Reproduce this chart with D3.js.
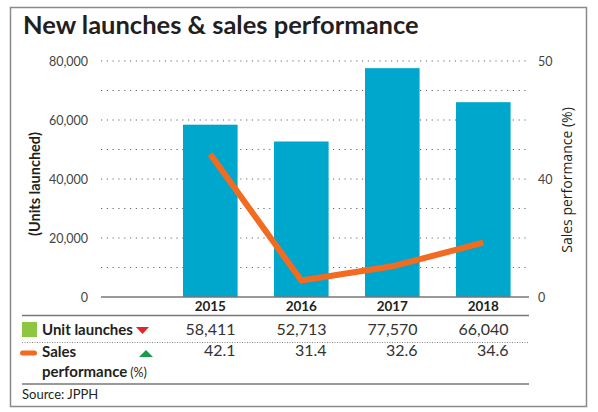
<!DOCTYPE html>
<html>
<head>
<meta charset="utf-8">
<script src="https://cdn.jsdelivr.net/npm/d3@7"></script>
<style>
  body { margin: 0; background: #fff; }
  text { font-family: Lato, "Open Sans", sans-serif; }
</style>
</head>
<body>
<script>
// values
const years = ["2015", "2016", "2017", "2018"];
const unitLaunches = [58411, 52713, 77570, 66040];
const salesPerf = [42.1, 31.4, 32.6, 34.6];
const leftTicks = [0, 20000, 40000, 60000, 80000];
const gridTicks = [0, 10000, 20000, 30000, 40000, 50000, 60000, 70000, 80000];
const rightTicks = [30, 40, 50];
const rightTickLabels = ["0", "40", "50"]; // the printed chart labels its base "0"

const W = 598, H = 412;

const svg = d3.select("body").append("svg")
  .attr("width", W)
  .attr("height", H);

// outer frame
svg.append("rect")
  .attr("x", 10.5).attr("y", 7.5)
  .attr("width", 576).attr("height", 399)
  .attr("fill", "#fff")
  .attr("stroke", "#8a8a8a")
  .attr("stroke-width", 1.5);

svg.append("text")
  .attr("x", 23).attr("y", 34)
  .style("font-size", "25.5px")
  .style("font-weight", "bold")
  .attr("fill", "#231f20")
  .text("New launches & sales performance");

const x = d3.scaleBand().domain(years).range([183, 510.6])
  .paddingInner(0.4).paddingOuter(0);
const y = d3.scaleLinear().domain([0, 80000]).range([297, 61]);
const yR = d3.scaleLinear().domain([30, 50]).range([297, 61]);

// dotted grid
svg.append("g")
  .selectAll("line")
  .data(gridTicks.filter(d => d > 0))
  .join("line")
  .attr("x1", 101).attr("x2", 529)
  .attr("y1", d => y(d)).attr("y2", d => y(d))
  .attr("stroke", "#666")
  .attr("stroke-width", 1.2)
  .attr("stroke-dasharray", "1.2,4.6");

// left axis labels
const leftAxis = d3.axisLeft(y)
  .tickValues(leftTicks)
  .tickSize(0)
  .tickPadding(0)
  .tickFormat(d3.format(","));
svg.append("g")
  .attr("transform", "translate(88,0)")
  .call(leftAxis)
  .call(g => g.select(".domain").remove())
  .selectAll("text")
  .style("font-family", "Lato, sans-serif")
  .style("font-size", "12.5px")
  .attr("fill", "#444");

// right axis labels
const rightAxis = d3.axisRight(yR)
  .tickValues(rightTicks)
  .tickSize(0)
  .tickPadding(0)
  .tickFormat((d, i) => rightTickLabels[i]);
svg.append("g")
  .attr("transform", "translate(538,0)")
  .call(rightAxis)
  .call(g => g.select(".domain").remove())
  .selectAll("text")
  .style("font-family", "Lato, sans-serif")
  .style("font-size", "12.5px")
  .attr("fill", "#444");

// axis titles
svg.append("text")
  .attr("transform", "translate(40,184) rotate(-90)")
  .attr("text-anchor", "middle")
  .style("font-size", "14.5px")
  .style("font-weight", "bold")
  .attr("fill", "#231f20")
  .text("(Units launched)");

svg.append("text")
  .attr("transform", "translate(572,180) rotate(-90)")
  .attr("text-anchor", "middle")
  .style("font-family", "'Open Sans', sans-serif")
  .style("font-size", "14px")
  .attr("fill", "#231f20")
  .text("Sales performance (%)");

// bars
svg.append("g")
  .selectAll("rect")
  .data(unitLaunches)
  .join("rect")
  .attr("x", (d, i) => x(years[i]))
  .attr("y", d => y(d))
  .attr("width", x.bandwidth())
  .attr("height", d => y(0) - y(d))
  .attr("fill", "#00a7cc");

// baseline
svg.append("line")
  .attr("x1", 101).attr("x2", 529)
  .attr("y1", y(0)).attr("y2", y(0))
  .attr("stroke", "#777")
  .attr("stroke-width", 1.5);

// sales performance line
const line = d3.line()
  .x((d, i) => x(years[i]) + x.bandwidth() / 2)
  .y(d => yR(d));
svg.append("path")
  .datum(salesPerf)
  .attr("d", line)
  .attr("fill", "none")
  .attr("stroke", "#f26b21")
  .attr("stroke-width", 6)
  .attr("stroke-linejoin", "miter");

// year labels
svg.append("g")
  .selectAll("text")
  .data(years)
  .join("text")
  .attr("x", d => x(d) + x.bandwidth() / 2)
  .attr("y", 311)
  .attr("text-anchor", "middle")
  .style("font-size", "13.5px")
  .style("font-weight", "bold")
  .attr("fill", "#231f20")
  .text(d => d);

// table rules
svg.append("line")
  .attr("x1", 22).attr("x2", 529).attr("y1", 315.5).attr("y2", 315.5)
  .attr("stroke", "#777").attr("stroke-width", 1.5);
svg.append("line")
  .attr("x1", 22).attr("x2", 529).attr("y1", 342.5).attr("y2", 342.5)
  .attr("stroke", "#888").attr("stroke-width", 1).attr("stroke-dasharray", "1,1.5");
svg.append("line")
  .attr("x1", 22).attr("x2", 529).attr("y1", 384).attr("y2", 384)
  .attr("stroke", "#777").attr("stroke-width", 1.5);

// legend row 1
svg.append("rect")
  .attr("x", 22).attr("y", 322).attr("width", 15).attr("height", 15)
  .attr("fill", "#8dc63f");
svg.append("text")
  .attr("x", 42).attr("y", 335)
  .style("font-size", "15px").style("font-weight", "bold")
  .attr("fill", "#231f20")
  .text("Unit launches");
svg.append("path")
  .attr("d", "M136,327 L149,327 L142.5,334 Z")
  .attr("fill", "#e4232b");

// legend row 2
svg.append("line")
  .attr("x1", 22.5).attr("x2", 34.5).attr("y1", 353).attr("y2", 353)
  .attr("stroke", "#f26b21").attr("stroke-width", 5).attr("stroke-linecap", "round");
svg.append("text")
  .attr("x", 42).attr("y", 357)
  .style("font-size", "15px").style("font-weight", "bold")
  .attr("fill", "#231f20")
  .text("Sales");
svg.append("path")
  .attr("d", "M139,357 L153,357 L146,350 Z")
  .attr("fill", "#1b9a4b");
const perf = svg.append("text")
  .attr("x", 42).attr("y", 377)
  .attr("fill", "#231f20");
perf.append("tspan")
  .style("font-size", "15px").style("font-weight", "bold")
  .text("performance");
perf.append("tspan")
  .style("font-size", "12.5px")
  .attr("dx", 3)
  .text("(%)");

// table values
const fmt = d3.format(",");
svg.append("g")
  .selectAll("text")
  .data(unitLaunches)
  .join("text")
  .attr("x", (d, i) => x(years[i]) + x.bandwidth() - 2)
  .attr("y", 335)
  .attr("text-anchor", "end")
  .style("font-size", "16px")
  .attr("fill", "#333")
  .text(d => fmt(d));
svg.append("g")
  .selectAll("text")
  .data(salesPerf)
  .join("text")
  .attr("x", (d, i) => x(years[i]) + x.bandwidth() - 2)
  .attr("y", 356)
  .attr("text-anchor", "end")
  .style("font-size", "16px")
  .attr("fill", "#333")
  .text(d => d.toFixed(1));

svg.append("text")
  .attr("x", 22).attr("y", 399)
  .style("font-size", "13px")
  .attr("fill", "#231f20")
  .text("Source: JPPH");
</script>
</body>
</html>
